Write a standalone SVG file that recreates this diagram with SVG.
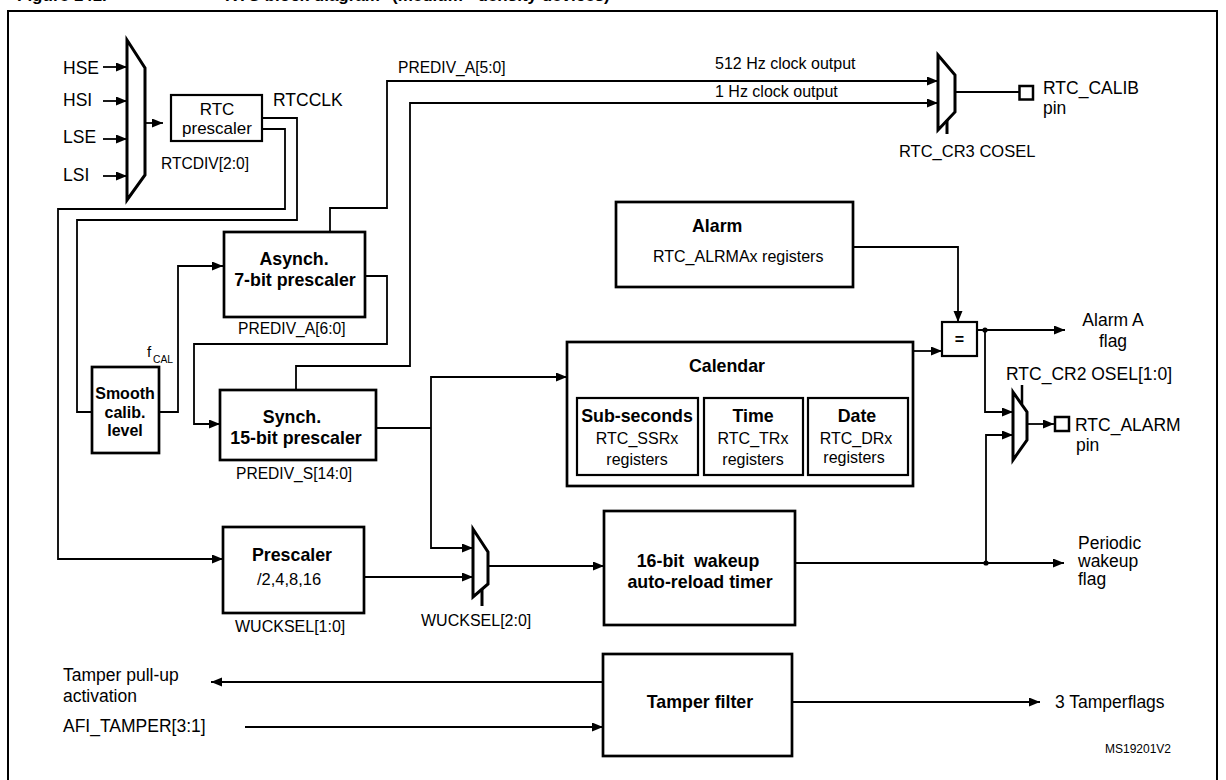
<svg xmlns="http://www.w3.org/2000/svg" width="1226" height="780" viewBox="0 0 1226 780">
<defs>
<marker id="arr" markerUnits="userSpaceOnUse" markerWidth="12" markerHeight="10" refX="11" refY="4.5" orient="auto"><path d="M0,0 L11,4.5 L0,9 Z" fill="#000"/></marker>
<style>
text{font-family:"Liberation Sans",Arial,Helvetica,sans-serif;fill:#000;font-size:16px}
.l{font-size:17.5px}
.s{font-size:15.6px}
.b{font-weight:bold;font-size:17.8px}
.bs{font-weight:bold;font-size:16px}
.m{text-anchor:middle}
.box{fill:#fff;stroke:#000;stroke-width:2.7}
.ibox{fill:#fff;stroke:#000;stroke-width:2.2}
.mux{fill:#fff;stroke:#000;stroke-width:3;stroke-linejoin:miter}
.w{fill:none;stroke:#000;stroke-width:1.8}
.a{marker-end:url(#arr)}
</style>
</defs>
<rect width="1226" height="780" fill="#fff"/>
<text x="17" y="0.5" style="font-weight:bold;font-size:17px">Figure 141.<tspan x="225">RTC block diagram</tspan><tspan x="392">(medium+ density devices)</tspan></text>
<rect x="8" y="11" width="1209" height="790" fill="none" stroke="#000" stroke-width="2"/>

<g id="connectors">
<path class="w a" d="M103,67 H127"/>
<path class="w a" d="M103,101 H127"/>
<path class="w a" d="M103,139 H127"/>
<path class="w a" d="M103,176 H127"/>
<path class="w a" d="M145,123 H163"/>
<path class="w" d="M262,118 H297 V220 H77 V412 H92"/>
<path class="w a" d="M262,129 H285 V209 H58 V559 H223"/>
<path class="w a" d="M159,412 H178 V266 H223"/>
<path class="w a" d="M330,232 V208 H387 V81 H938"/>
<path class="w a" d="M365,276 H387 V344 H194 V424 H220"/>
<path class="w a" d="M296,390 V366 H410 V103 H938"/>
<path class="w" d="M376,428 H431"/>
<path class="w a" d="M431,428 V377 H567"/>
<path class="w a" d="M431,428 V548 H473"/>
<path class="w a" d="M364,577 H473"/>
<path class="w a" d="M488,566 H604"/>
<path class="w a" d="M853,247 H958 V322"/>
<path class="w a" d="M913,351 H942"/>
<path class="w a" d="M977,330 H1065"/>
<path class="w a" d="M985,330 V412 H1013"/>
<path class="w a" d="M795,563 H1064"/>
<path class="w a" d="M986,563 V435 H1013"/>
<path class="w a" d="M1027,424 H1054"/>
<path class="w" d="M955,92 H1019"/>
<path class="w a" d="M603,682 H211"/>
<path class="w a" d="M245,727 H603"/>
<path class="w a" d="M792,702 H1040"/>
<circle cx="985" cy="330" r="2.6" fill="#000"/>
<circle cx="986" cy="563" r="2.6" fill="#000"/>
</g>

<g id="inputs">
<text class="l" x="63" y="74">HSE</text>
<text class="l" x="63" y="106">HSI</text>
<text class="l" x="63" y="143">LSE</text>
<text class="l" x="63" y="181">LSI</text>
</g>

<g id="clock-mux">
<path class="mux" d="M127,40 L145,68 L145,175 L127,200 Z"/>
</g>

<g id="rtc-prescaler">
<rect class="ibox" x="171" y="95" width="91" height="46"/>
<text class="m" x="217" y="115" style="font-size:17px">RTC</text>
<text class="m" x="217" y="134" style="font-size:17px">prescaler</text>
<text class="s" x="161" y="169">RTCDIV[2:0]</text>
<text class="l" x="273" y="106">RTCCLK</text>
</g>

<g id="smooth-calib">
<rect class="box" x="92" y="367" width="67" height="86"/>
<text class="bs m" x="125" y="399">Smooth</text>
<text class="bs m" x="125" y="418">calib.</text>
<text class="bs m" x="125" y="436">level</text>
<text x="147" y="357" style="font-size:15px">f</text>
<text x="153" y="363" style="font-size:10.3px">CAL</text>
</g>

<g id="asynch">
<rect class="box" x="224" y="232" width="141" height="85"/>
<text class="b m" x="294" y="265">Asynch.</text>
<text class="b m" x="295" y="286">7-bit prescaler</text>
<text class="s" x="238" y="334">PREDIV_A[6:0]</text>
</g>

<g id="synch">
<rect class="box" x="220" y="390" width="156" height="70"/>
<text class="b m" x="292" y="423">Synch.</text>
<text class="b m" x="296" y="444">15-bit prescaler</text>
<text class="s" x="236" y="479">PREDIV_S[14:0]</text>
</g>

<g id="prediv-labels">
<text class="s" x="398" y="73">PREDIV_A[5:0]</text>
<text x="715" y="69">512 Hz clock output</text>
<text x="715" y="97">1 Hz clock output</text>
</g>

<g id="calib-mux">
<path class="mux" d="M938,55 L955,75 L955,112 L938,130 Z"/>
<path class="w" d="M947,120 V134" style="stroke-width:3"/>
<rect x="1019.5" y="86" width="13.5" height="13.5" fill="#fff" stroke="#000" stroke-width="2.5"/>
<text class="l" x="1043" y="94">RTC_CALIB</text>
<text class="l" x="1043" y="114">pin</text>
<text x="899" y="157" style="font-size:16.5px">RTC_CR3 COSEL</text>
</g>

<g id="alarm">
<rect class="box" x="616" y="202" width="237" height="85"/>
<text class="b" x="692" y="232">Alarm</text>
<text x="653" y="262">RTC_ALRMAx registers</text>
</g>

<g id="compare">
<rect class="ibox" x="942" y="322" width="35" height="34"/>
<text class="bs m" x="959.5" y="345">=</text>
<text class="l m" x="1113" y="326">Alarm A</text>
<text class="l m" x="1113" y="347">flag</text>
</g>

<g id="calendar">
<rect class="box" x="567" y="342" width="346" height="144"/>
<text class="b m" x="727" y="372">Calendar</text>
<rect class="ibox" x="577" y="398" width="121" height="77"/>
<text class="b m" x="637" y="422">Sub-seconds</text>
<text class="m" x="637" y="444">RTC_SSRx</text>
<text class="m" x="637" y="465">registers</text>
<rect class="ibox" x="704" y="398" width="99" height="77"/>
<text class="b m" x="753" y="422">Time</text>
<text class="m" x="753" y="444">RTC_TRx</text>
<text class="m" x="753" y="465">registers</text>
<rect class="ibox" x="808" y="398" width="100" height="77"/>
<text class="b m" x="857" y="422">Date</text>
<text class="m" x="856" y="444">RTC_DRx</text>
<text class="m" x="854" y="463">registers</text>
</g>

<g id="alarm-mux">
<path class="mux" d="M1013,392 L1027,412 L1027,440 L1013,460 Z"/>
<path class="w" d="M1022,385 V404" style="stroke-width:2.5"/>
<rect x="1055" y="417" width="14" height="14" fill="#fff" stroke="#000" stroke-width="2.5"/>
<text class="l" x="1006" y="380">RTC_CR2 OSEL[1:0]</text>
<text class="l" x="1075" y="431">RTC_ALARM</text>
<text class="l" x="1076" y="451">pin</text>
</g>

<g id="prescaler">
<rect class="box" x="223" y="527" width="141" height="86"/>
<text class="b m" x="292" y="561">Prescaler</text>
<text class="m" x="289" y="585" style="font-size:16.5px">/2,4,8,16</text>
<text x="235" y="632">WUCKSEL[1:0]</text>
</g>

<g id="wucksel-mux">
<path class="mux" d="M473,529 L488,552 L488,584 L473,597 Z"/>
<path class="w" d="M482,589 V606" style="stroke-width:3"/>
<text x="421" y="626">WUCKSEL[2:0]</text>
</g>

<g id="wakeup-timer">
<rect class="box" x="604" y="511" width="191" height="114"/>
<text class="b m" x="698" y="567" xml:space="preserve">16-bit  wakeup</text>
<text class="b m" x="700" y="588">auto-reload timer</text>
<text class="l" x="1078" y="549">Periodic</text>
<text class="l" x="1078" y="567">wakeup</text>
<text class="l" x="1078" y="585">flag</text>
</g>

<g id="tamper-filter">
<rect class="box" x="603" y="654" width="189" height="102"/>
<text class="b m" x="700" y="708">Tamper filter</text>
<text class="l" x="63" y="681">Tamper pull-up</text>
<text class="l" x="63" y="702">activation</text>
<text class="l" x="63" y="732">AFI_TAMPER[3:1]</text>
<text class="l" x="1055" y="708">3 Tamperflags</text>
</g>

<text x="1105" y="753" style="font-size:12px">MS19201V2</text>
</svg>
